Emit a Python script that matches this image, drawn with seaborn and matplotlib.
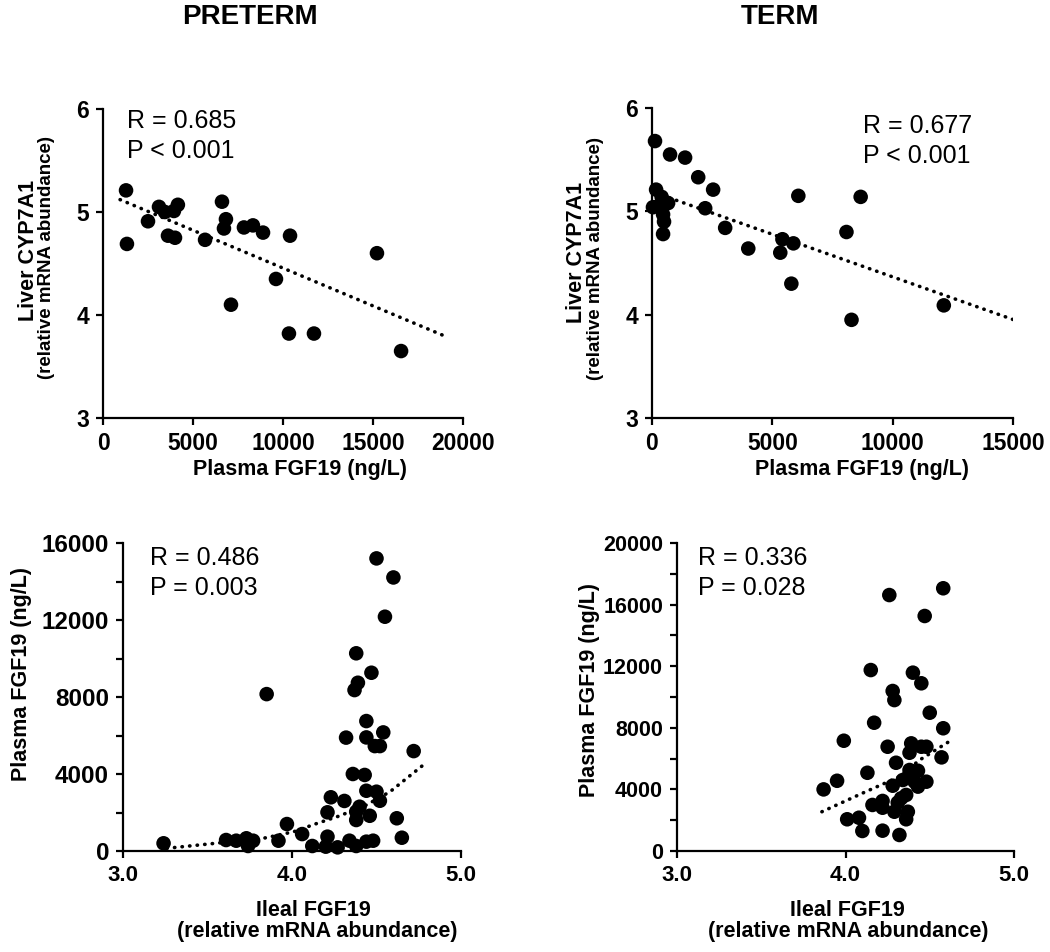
import numpy as np
import pandas as pd
import matplotlib
matplotlib.use('Agg')
import matplotlib.pyplot as plt
import seaborn as sns
from matplotlib.ticker import MultipleLocator

# ---- data ----
# preterm: plasma FGF19 vs liver CYP7A1
pre_fgf = [1280, 1330, 2500, 3110, 3440, 3940, 4160, 3610, 4000, 5670, 6610, 6830,
           6720, 7110, 7830, 8330, 8890, 9610, 10330, 10390, 11720, 15220, 16560]
pre_cyp = [5.21, 4.69, 4.91, 5.05, 5.00, 5.01, 5.07, 4.77, 4.75, 4.73, 5.10, 4.93,
           4.84, 4.10, 4.85, 4.87, 4.80, 4.35, 3.82, 4.77, 3.82, 4.60, 3.65]
pre_fit_x = [950, 19200]
pre_fit_y = [5.12, 3.78]

# term: plasma FGF19 vs liver CYP7A1
term_fgf = [125, 750, 1375, 1920, 2540, 2210, 3040, 4000, 170, 40, 400, 670, 460,
            500, 460, 250, 5420, 5875, 5330, 5790, 6080, 8080, 8670, 8290, 12125]
term_cyp = [5.68, 5.55, 5.52, 5.33, 5.21, 5.03, 4.84, 4.64, 5.21, 5.04, 5.14, 5.08,
            4.97, 4.90, 4.78, 5.05, 4.73, 4.69, 4.60, 4.30, 5.15, 4.80, 5.14, 3.95, 4.09]
term_fit_x = [125, 15040]
term_fit_y = [5.18, 3.95]

# preterm: ileal FGF19 vs plasma FGF19
pre_ileal = [3.24, 3.61, 3.67, 3.73, 3.74, 3.77, 3.92, 3.97, 3.85, 4.06, 4.12, 4.21,
             4.20, 4.27, 4.21, 4.23, 4.31, 4.32, 4.34, 4.38, 4.38, 4.40, 4.46, 4.38,
             4.44, 4.48, 4.36, 4.43, 4.44, 4.50, 4.52, 4.37, 4.39, 4.38, 4.47, 4.44,
             4.44, 4.54, 4.49, 4.52, 4.50, 4.60, 4.55, 4.72, 4.62, 4.65]
pre_plasma = [400, 570, 535, 660, 260, 535, 535, 1400, 8150, 880, 260, 745,
              225, 190, 2010, 2790, 2600, 5890, 535, 1610, 2040, 2300, 1830, 260,
              485, 535, 4000, 3950, 3130, 3080, 2610, 8360, 8740, 10270, 9260, 6750,
              5900, 6160, 5450, 5450, 15200, 14210, 12170, 5190, 1700, 690]
pre_curve_x = [3.26, 3.58, 3.83, 4.01, 4.15, 4.28, 4.44, 4.58, 4.77]
pre_curve_y = [140, 430, 660, 1000, 1440, 1820, 2390, 3080, 4420]

# term: ileal FGF19 vs plasma FGF19
term_ileal = [3.87, 3.95, 3.99, 4.01, 4.08, 4.10, 4.13, 4.15, 4.17, 4.26, 4.16, 4.22,
              4.22, 4.22, 4.25, 4.28, 4.29, 4.28, 4.30, 4.29, 4.31, 4.32, 4.33, 4.34,
              4.36, 4.37, 4.36, 4.38, 4.39, 4.40, 4.41, 4.43, 4.41, 4.38, 4.45, 4.48,
              4.45, 4.47, 4.48, 4.50, 4.58, 4.58, 4.57, 4.43]
term_plasma = [4000, 4560, 7160, 2060, 2160, 1300, 5080, 11750, 8330, 16620, 2990, 3250,
               2810, 1320, 6770, 10390, 9800, 4240, 5730, 2550, 3140, 1040, 3420, 4610,
               3640, 2550, 2060, 6380, 6990, 11580, 5150, 4180, 4500, 5260, 6770, 6770,
               10890, 15260, 4500, 8980, 17060, 7970, 6080, 5210]
term_curve_x = [3.86, 4.12, 4.32, 4.44, 4.63]
term_curve_y = [2550, 3850, 4820, 5910, 7210]

stats_text = [('R = 0.685', 'P < 0.001'), ('R = 0.677', 'P < 0.001'),
              ('R = 0.486', 'P = 0.003'), ('R = 0.336', 'P = 0.028')]

# ---- style ----
sns.set_style('ticks')
plt.rcParams['font.family'] = ['Liberation Sans', 'DejaVu Sans']
plt.rcParams['font.weight'] = 'bold'
plt.rcParams['text.color'] = 'black'
plt.rcParams['axes.labelcolor'] = 'black'
plt.rcParams['xtick.color'] = 'black'
plt.rcParams['ytick.color'] = 'black'

W, H = 1050, 952
fig = plt.figure(figsize=(W / 100, H / 100), dpi=100)


def px(x, y):
    return x / W, 1 - y / H


def make_ax(left, top, right, bottom):
    ax = fig.add_axes([left / W, 1 - bottom / H, (right - left) / W, (bottom - top) / H])
    sns.despine(ax=ax)
    for s in ['left', 'bottom']:
        ax.spines[s].set_linewidth(1.6)
        ax.spines[s].set_color('black')
    ax.tick_params(axis='both', which='both', direction='out', length=5, width=1.6,
                   colors='black', labelcolor='black', pad=5)
    return ax


def draw(ax, x, y, fx, fy):
    sns.scatterplot(x=x, y=y, ax=ax, color='black', s=110, edgecolor='none',
                    clip_on=False, zorder=3)
    sns.lineplot(x=fx, y=fy, ax=ax, color='black', lw=2.6, estimator=None, sort=False,
                 linestyle=(0, (0.1, 2.0)), dash_capstyle='round', zorder=2)


def style_ticks(ax, xsize, ysize):
    ax.set_xlabel('')
    ax.set_ylabel('')
    for lab in ax.get_xticklabels():
        lab.set_fontweight('bold')
        lab.set_fontsize(xsize)
        lab.set_color('black')
    for lab in ax.get_yticklabels():
        lab.set_fontweight('bold')
        lab.set_fontsize(ysize)
        lab.set_color('black')


ax1 = make_ax(103, 109, 463, 418)
draw(ax1, pre_fgf, pre_cyp, pre_fit_x, pre_fit_y)
ax1.set_xlim(0, 20000)
ax1.set_ylim(3, 6)
ax1.set_xticks([0, 5000, 10000, 15000, 20000])
ax1.set_yticks([3, 4, 5, 6])
style_ticks(ax1, 16.5, 16.5)

ax2 = make_ax(652, 108, 1013, 418)
draw(ax2, term_fgf, term_cyp, term_fit_x, term_fit_y)
ax2.set_xlim(0, 15000)
ax2.set_ylim(3, 6)
ax2.set_xticks([0, 5000, 10000, 15000])
ax2.set_yticks([3, 4, 5, 6])
style_ticks(ax2, 16.5, 16.5)

ax3 = make_ax(123, 543, 461, 851)
draw(ax3, pre_ileal, pre_plasma, pre_curve_x, pre_curve_y)
ax3.set_xlim(3, 5)
ax3.set_ylim(0, 16000)
ax3.set_xticks([3, 4, 5])
ax3.set_xticklabels(['3.0', '4.0', '5.0'])
ax3.set_yticks([0, 4000, 8000, 12000, 16000])
ax3.yaxis.set_minor_locator(MultipleLocator(2000))
style_ticks(ax3, 16, 17.5)

ax4 = make_ax(677, 543, 1014, 851)
draw(ax4, term_ileal, term_plasma, term_curve_x, term_curve_y)
ax4.set_xlim(3, 5)
ax4.set_ylim(0, 20000)
ax4.set_xticks([3, 4, 5])
ax4.set_xticklabels(['3.0', '4.0', '5.0'])
ax4.set_yticks([0, 4000, 8000, 12000, 16000, 20000])
ax4.yaxis.set_minor_locator(MultipleLocator(2000))
style_ticks(ax4, 16, 15.5)

# titles
fig.text(*px(250, 17), 'PRETERM', ha='center', va='center', fontsize=20, fontweight='bold')
fig.text(*px(780, 17), 'TERM', ha='center', va='center', fontsize=20, fontweight='bold')

# axis labels
fig.text(*px(29, 250), 'Liver CYP7A1', rotation=90, ha='center', va='center',
         fontsize=15.5, fontweight='bold')
fig.text(*px(47, 258), '(relative mRNA abundance)', rotation=90, ha='center', va='center',
         fontsize=13.5, fontweight='bold')
fig.text(*px(576, 252), 'Liver CYP7A1', rotation=90, ha='center', va='center',
         fontsize=15.5, fontweight='bold')
fig.text(*px(595, 259), '(relative mRNA abundance)', rotation=90, ha='center', va='center',
         fontsize=13.5, fontweight='bold')
fig.text(*px(22, 674), 'Plasma FGF19 (ng/L)', rotation=90, ha='center', va='center',
         fontsize=15.5, fontweight='bold')
fig.text(*px(590, 690), 'Plasma FGF19 (ng/L)', rotation=90, ha='center', va='center',
         fontsize=15.5, fontweight='bold')

fig.text(*px(300, 469), 'Plasma FGF19 (ng/L)', ha='center', va='center',
         fontsize=15.5, fontweight='bold')
fig.text(*px(862, 470), 'Plasma FGF19 (ng/L)', ha='center', va='center',
         fontsize=15.5, fontweight='bold')
fig.text(*px(313, 910), 'Ileal FGF19', ha='center', va='center',
         fontsize=15.5, fontweight='bold')
fig.text(*px(317, 931), '(relative mRNA abundance)', ha='center', va='center',
         fontsize=15.5, fontweight='bold')
fig.text(*px(847, 910), 'Ileal FGF19', ha='center', va='center',
         fontsize=15.5, fontweight='bold')
fig.text(*px(848, 931), '(relative mRNA abundance)', ha='center', va='center',
         fontsize=15.5, fontweight='bold')

# R / P annotations
for (r, p), (x0, y0) in zip(stats_text, [(127, 128), (863, 133), (150, 565), (698, 565)]):
    fig.text(*px(x0, y0), r, ha='left', va='baseline', fontsize=18, fontweight='normal')
    fig.text(*px(x0, y0 + 30), p, ha='left', va='baseline', fontsize=18, fontweight='normal')

fig.savefig('out.png', dpi=100)
